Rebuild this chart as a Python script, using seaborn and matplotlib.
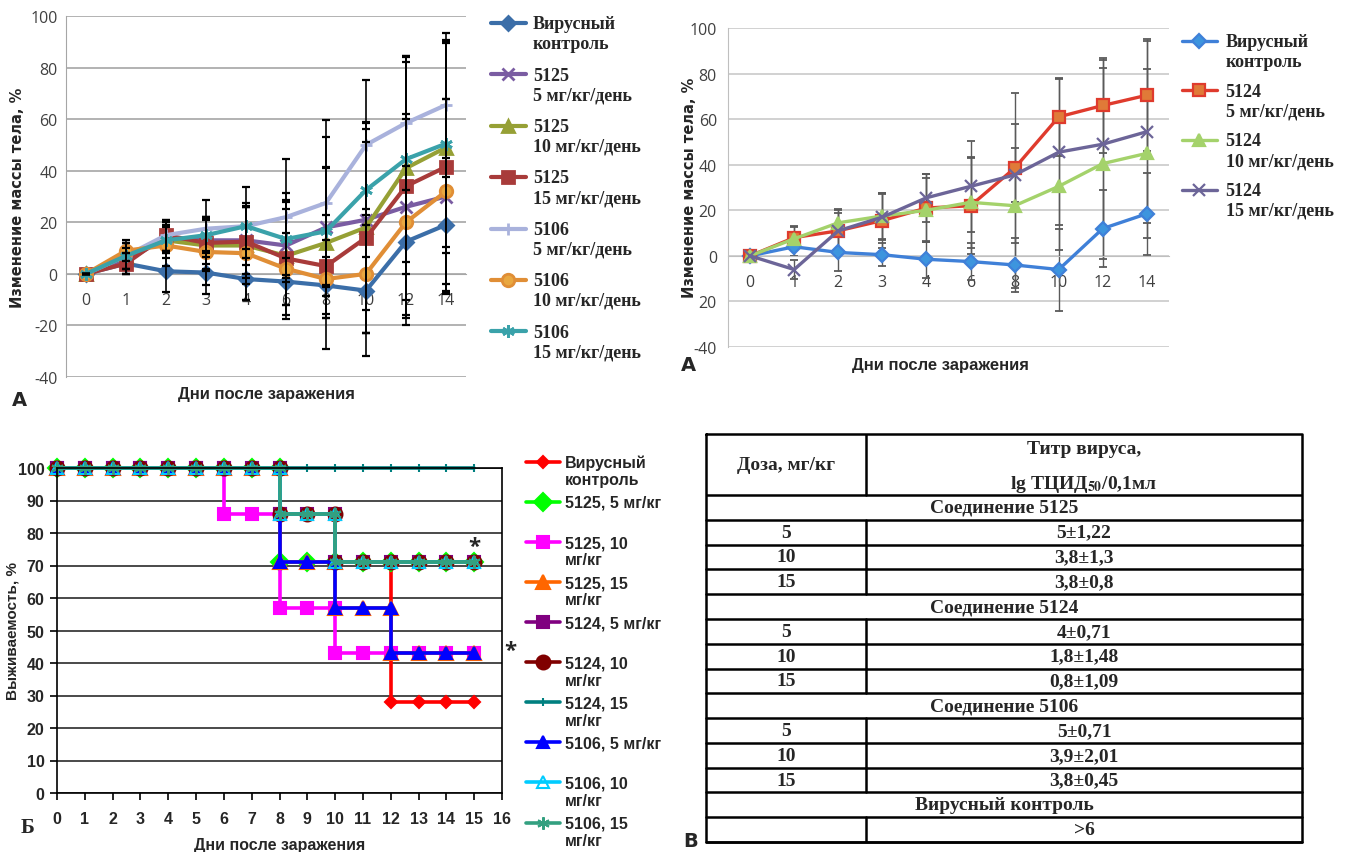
import numpy as np
import matplotlib
matplotlib.use('Agg')
import matplotlib.pyplot as plt
from matplotlib.legend_handler import HandlerLine2D
import seaborn as sns

# ---------------- data: panel A (left), 5125 / 5106, body weight change ----------------
days_a = ['0', '1', '2', '3', '4', '6', '8', '10', '12', '14']

ctrl_l = [0, 4, 1, 0.5, -2, -3, -4.5, -6.5, 12.5, 19]
ctrl_l_err = [0, 4, 8, 8.5, 8, 9, 11, 25.5, 29.5, 26]
c5125_5 = [0, 5, 14, 13, 13, 11, 18, 21, 26, 30]
c5125_5_err = [0, 5, 6, 9, 13, 14, 23, 35, 36, 38]
c5125_10 = [0, 7, 13, 11, 11, 7, 12, 18, 41, 49]
c5125_10_err = [0, 5, 5, 10, 15, 24.5, 41, 41, 41, 41]
c5125_15 = [0, 4, 15, 12, 12.5, 6, 3, 14, 34, 41.5]
c5125_15_err = [0, 4, 6, 10, 14, 22, 20, 37, 50, 48]
c5106_5 = [0, 7, 15, 17.5, 18.5, 22, 27.5, 50, 58.5, 65.5]
c5106_5_err = [0, 5, 6, 11, 15, 22.5, 32, 25, 26, 28]
c5106_10 = [0, 9, 11, 8.5, 8, 2, -2, 0, 20, 32]
c5106_10_err = [0, 4, 8, 13, 18, 14, 15, 23, 40, 36]
c5106_15 = [0, 7, 13, 15, 18.5, 13.5, 16.5, 32.5, 44.5, 50.5]
c5106_15_err = [0, 5, 7, 7, 9, 15, 25, 26, 40, 40]

# ---------------- data: panel A (right), 5124 ----------------
ctrl_r = [0, 4, 1.5, 0.5, -1.5, -2.5, -4, -6, 12, 18.5]
ctrl_r_err = [0, 4, 8, 5, 8, 8, 12, 18, 17, 18]
c5124_5 = [0, 8, 11, 15.5, 21, 22, 38.5, 61, 66, 70.5]
c5124_5_err = [0, 5, 9, 12, 15, 21, 33, 17, 21, 24.5]
c5124_10 = [0, 7.5, 14.5, 17.5, 20, 23.5, 22, 30.5, 40.5, 45]
c5124_10_err = [0, 5, 6, 10, 14, 20, 36, 28, 42, 37]
c5124_15 = [0, -6, 11, 17, 25.5, 30.5, 35.5, 45.5, 49, 54.5]
c5124_15_err = [0, 4, 8, 10, 10.5, 20, 12, 32, 37, 40]
yticks_r = [-40, -20, 0, 20, 40, 60, 80, 100]
ytick_labels_r = ['-40', '20', '0', '20', '40', '60', '80', '100']

# ---------------- data: panel Б, survival (drop days repeated, as in the original) ----------------
s_ctrl_d = [0, 1, 2, 3, 4, 5, 6, 7, 8, 8, 9, 10, 10, 11, 12, 12, 13, 14, 15]
s_ctrl = [100, 100, 100, 100, 100, 100, 100, 100, 100, 86, 86, 86, 71, 71, 71, 28, 28, 28, 28]
s5125_5_d = [0, 1, 2, 3, 4, 5, 6, 7, 8, 8, 9, 10, 11, 12, 13, 14, 15]
s5125_5 = [100, 100, 100, 100, 100, 100, 100, 100, 100, 71, 71, 71, 71, 71, 71, 71, 71]
s5125_10_d = [0, 1, 2, 3, 4, 5, 6, 6, 7, 8, 8, 9, 10, 10, 11, 12, 13, 14, 15]
s5125_10 = [100, 100, 100, 100, 100, 100, 100, 86, 86, 86, 57, 57, 57, 43, 43, 43, 43, 43, 43]
s5125_15_d = [0, 1, 2, 3, 4, 5, 6, 7, 8, 8, 9, 10, 10, 11, 12, 12, 13, 14, 15]
s5125_15 = [100, 100, 100, 100, 100, 100, 100, 100, 100, 71, 71, 71, 57, 57, 57, 43, 43, 43, 43]
s5124_5_d = [0, 1, 2, 3, 4, 5, 6, 7, 8, 8, 9, 10, 10, 11, 12, 13, 14, 15]
s5124_5 = [100, 100, 100, 100, 100, 100, 100, 100, 100, 86, 86, 86, 71, 71, 71, 71, 71, 71]
s5124_10_d = [0, 1, 2, 3, 4, 5, 6, 7, 8, 8, 9, 10, 10, 11, 12, 13, 14, 15]
s5124_10 = [100, 100, 100, 100, 100, 100, 100, 100, 100, 86, 86, 86, 71, 71, 71, 71, 71, 71]
s5124_15_d = [0, 1, 2, 3, 4, 5, 6, 7, 8, 9, 10, 11, 12, 13, 14, 15]
s5124_15 = [100] * 16
s5106_5_d = [0, 1, 2, 3, 4, 5, 6, 7, 8, 8, 9, 10, 10, 11, 12, 12, 13, 14, 15]
s5106_5 = [100, 100, 100, 100, 100, 100, 100, 100, 100, 71, 71, 71, 57, 57, 57, 43, 43, 43, 43]
s5106_10_d = [0, 1, 2, 3, 4, 5, 6, 7, 8, 8, 9, 10, 10, 11, 12, 13, 14, 15]
s5106_10 = [100, 100, 100, 100, 100, 100, 100, 100, 100, 86, 86, 86, 71, 71, 71, 71, 71, 71]
s5106_15_d = [0, 1, 2, 3, 4, 5, 6, 7, 8, 8, 9, 10, 10, 11, 12, 13, 14, 15]
s5106_15 = [100, 100, 100, 100, 100, 100, 100, 100, 100, 86, 86, 86, 71, 71, 71, 71, 71, 71]

# ---------------- data: panel В, table ----------------
tbl_rows = [
    ('Соединение 5125', None),
    ('5', '5±1,22'), ('10', '3,8±1,3'), ('15', '3,8±0,8'),
    ('Соединение 5124', None),
    ('5', '4±0,71'), ('10', '1,8±1,48'), ('15', '0,8±1,09'),
    ('Соединение 5106', None),
    ('5', '5±0,71'), ('10', '3,9±2,01'), ('15', '3,8±0,45'),
    ('Вирусный контроль', None),
    ('', '>6'),
]

sns.set_style('white')
plt.rcParams['font.family'] = ['Open Sans', 'DejaVu Sans']
plt.rcParams['mathtext.fontset'] = 'stix'
plt.rcParams['axes.unicode_minus'] = False

W, H = 1347, 853
fig = plt.figure(figsize=(W / 100, H / 100), dpi=100)


def rect(l, t, r, b):
    return [l / W, 1 - b / H, (r - l) / W, (b - t) / H]


class FirstLineHandler(HandlerLine2D):
    # put the legend handle next to the first line of a two-line label
    def __init__(self, shift=0.6, **kw):
        super().__init__(**kw)
        self.shift = shift

    def create_artists(self, legend, orig_handle, xdescent, ydescent, width, height, fontsize, trans):
        arts = super().create_artists(legend, orig_handle, xdescent, ydescent, width, height, fontsize, trans)
        for a in arts:
            a.set_ydata(np.asarray(a.get_ydata(), dtype=float) + self.shift * fontsize)
        return arts


serif_b = dict(family=['Liberation Serif', 'DejaVu Serif'], weight='bold')
narrow_b = dict(family=['Liberation Sans Narrow', 'Liberation Sans', 'DejaVu Sans'], weight='bold')
pos = np.arange(len(days_a))


def weight_axes(ax, grid_c, spine_c, label_c):
    ax.set_xlim(-0.5, len(days_a) - 0.5)
    ax.set_ylim(-40, 100)
    ax.set_yticks(range(-40, 101, 20))
    ax.set_xticks(pos)
    ax.set_xticklabels(days_a)
    ax.set_xticks(np.arange(0.5, len(days_a) - 0.5, 1), minor=True)
    ax.yaxis.grid(True, color=grid_c, lw=1.2)
    ax.set_axisbelow(True)
    for s in ['top', 'right']:
        ax.spines[s].set_visible(False)
    ax.spines['left'].set_color(spine_c)
    ax.spines['bottom'].set_color(spine_c)
    ax.spines['bottom'].set_position(('data', 0))
    ax.tick_params(axis='x', which='major', length=0, pad=13, labelsize=11.5, labelcolor=label_c)
    ax.tick_params(axis='x', which='minor', length=4, direction='out', color=spine_c)
    ax.tick_params(axis='y', length=0, pad=6, labelsize=11.5, labelcolor=label_c)
    ax.set_xlabel('')
    ax.set_ylabel('')


# ---------------- top-left chart ----------------
ax1 = fig.add_axes(rect(66, 17, 466, 378))
left_series = [
    (ctrl_l, ctrl_l_err, 'Вирусный\nконтроль', '#3b6ea8', '#3b6ea8', 'D', 7),
    (c5125_5, c5125_5_err, '5125\n5 мг/кг/день', '#7a5ca2', '#7a5ca2', 'x', 8),
    (c5125_10, c5125_10_err, '5125\n10 мг/кг/день', '#96a035', '#96a035', '^', 9),
    (c5125_15, c5125_15_err, '5125\n15 мг/кг/день', '#a83b3a', '#a83b3a', 's', 9),
    (c5106_5, c5106_5_err, '5106\n5 мг/кг/день', '#a9b2dc', '#a9b2dc', '+', 8),
    (c5106_10, c5106_10_err, '5106\n10 мг/кг/день', '#e08e36', '#e9a840', 'o', 9),
    (c5106_15, c5106_15_err, '5106\n15 мг/кг/день', '#3aa2aa', '#3aa2aa', (6, 2, 0), 9),
]
for vals, err, lab, c, fc, m, ms in left_series:
    sns.lineplot(x=pos, y=vals, ax=ax1, color=c, lw=3, marker=m, ms=ms, mfc=fc, mec=c,
                 mew=2, label=lab, clip_on=False, zorder=3)
for vals, err, lab, c, fc, m, ms in left_series:
    ax1.errorbar(pos, vals, yerr=err, fmt='none', ecolor='black', elinewidth=1.2,
                 capsize=3, capthick=1.6, zorder=4)
weight_axes(ax1, '#a6a6a6', '#a6a6a6', '#404040')
h1, l1 = ax1.get_legend_handles_labels()
ax1.get_legend().remove()
ax1.text(-0.12, 0.5, 'Изменение массы тела, %', transform=ax1.transAxes, rotation=90,
         ha='center', va='center', fontsize=10.5, fontweight='bold', family='DejaVu Sans')
fig.text(266 / W, 1 - 395 / H, 'Дни после заражения', ha='center', va='center',
         fontsize=12, **narrow_b)
fig.text(12 / W, 1 - 401 / H, 'A', ha='left', va='center', fontsize=14, fontweight='bold',
         family='DejaVu Sans')
fig.legend(h1, l1, loc='upper left', bbox_to_anchor=(475 / W, 1 - 0 / H), frameon=False,
           prop=dict(size=13, **serif_b), handlelength=1.9, handletextpad=0.4,
           labelspacing=0.82, numpoints=1,
           handler_map={h: FirstLineHandler() for h in h1})

# ---------------- top-right chart ----------------
ax2 = fig.add_axes(rect(728, 29, 1169, 348))
right_series = [
    (ctrl_r, ctrl_r_err, 'Вирусный\nконтроль', '#3f80d8', '#3d95de', 'D', 7),
    (c5124_5, c5124_5_err, '5124\n5 мг/кг/день', '#df3b2d', '#e07a38', 's', 9),
    (c5124_10, c5124_10_err, '5124\n10 мг/кг/день', '#a4d26b', '#a4d26b', '^', 9),
    (c5124_15, c5124_15_err, '5124\n15 мг/кг/день', '#6c6598', '#6c6598', 'x', 9),
]
for vals, err, lab, c, fc, m, ms in right_series:
    sns.lineplot(x=pos, y=vals, ax=ax2, color=c, lw=2.4, marker=m, ms=ms, mfc=fc, mec=c,
                 mew=1.6, label=lab, clip_on=False, zorder=3)
for vals, err, lab, c, fc, m, ms in right_series:
    ax2.errorbar(pos, vals, yerr=err, fmt='none', ecolor='#5a5a5a', elinewidth=1,
                 capsize=3, capthick=1.3, zorder=2.5)
weight_axes(ax2, '#c9c9c9', '#bfbfbf', '#404040')
ax2.set_yticks(yticks_r)
ax2.set_yticklabels(ytick_labels_r)
ax2.tick_params(axis='y', pad=8)
h2, l2 = ax2.get_legend_handles_labels()
ax2.get_legend().remove()
fig.text(689 / W, 1 - 188 / H, 'Изменение массы тела, %', rotation=90, ha='center', va='center',
         fontsize=10.5, fontweight='bold', family='DejaVu Sans')
fig.text(940 / W, 1 - 366 / H, 'Дни после заражения', ha='center', va='center',
         fontsize=12, **narrow_b)
fig.text(681 / W, 1 - 366 / H, 'A', ha='left', va='center', fontsize=14, fontweight='bold',
         family='DejaVu Sans')
fig.legend(h2, l2, loc='upper left', bbox_to_anchor=(1166 / W, 1 - 18 / H), frameon=False,
           prop=dict(size=13, **serif_b), handlelength=1.9, handletextpad=0.5,
           labelspacing=0.72, numpoints=1,
           handler_map={h: FirstLineHandler() for h in h2})

# ---------------- bottom-left survival chart ----------------
ax3 = fig.add_axes(rect(57, 469, 502, 794))
surv_series = [
    (s_ctrl_d, s_ctrl, 'Вирусный\nконтроль', '#ff0000', '#ff0000', 'D', 6),
    (s5125_5_d, s5125_5, '5125, 5 мг/кг\n ', '#00ff00', '#00ff00', 'D', 9),
    (s5125_10_d, s5125_10, '5125, 10\nмг/кг', '#ff00ff', '#ff00ff', 's', 9),
    (s5125_15_d, s5125_15, '5125, 15\nмг/кг', '#ff6600', '#ff6600', '^', 10),
    (s5124_5_d, s5124_5, '5124, 5 мг/кг\n ', '#800080', '#800080', 's', 9),
    (s5124_10_d, s5124_10, '5124, 10\nмг/кг', '#800000', '#800000', 'o', 10),
    (s5124_15_d, s5124_15, '5124, 15\nмг/кг', '#008080', '#008080', '|', 6),
    (s5106_5_d, s5106_5, '5106, 5 мг/кг\n ', '#0000ff', '#0000ff', '^', 9),
    (s5106_10_d, s5106_10, '5106, 10\nмг/кг', '#00ccff', 'none', '^', 9),
    (s5106_15_d, s5106_15, '5106, 15\nмг/кг', '#33a080', '#33a080', (6, 2, 0), 9),
]
for d, vals, lab, c, fc, m, ms in surv_series:
    sns.lineplot(x=d, y=vals, ax=ax3, estimator=None, sort=False, color=c, lw=2.6,
                 marker=m, ms=ms, mfc=fc, mec=c, mew=1.5, label=lab, clip_on=False)
ax3.set_xlim(0, 16)
ax3.set_ylim(0, 100)
ax3.set_xticks(range(0, 17))
ax3.set_yticks(range(0, 101, 10))
ax3.yaxis.grid(True, color='#3a3a3a', lw=1.3)
ax3.set_axisbelow(True)
for s in ['left', 'right', 'bottom', 'top']:
    ax3.spines[s].set_color('black')
    ax3.spines[s].set_linewidth(1.2)
ax3.tick_params(axis='both', length=5, width=1.2, color='black', direction='out',
                bottom=True, left=True)
ax3.tick_params(axis='x', pad=8)
ax3.tick_params(axis='y', pad=4)
for t in ax3.get_xticklabels() + ax3.get_yticklabels():
    t.set_fontweight('bold')
    t.set_fontsize(11.5)
    t.set_family(['Liberation Sans', 'DejaVu Sans'])
ax3.set_xlabel('Дни после заражения', fontsize=11.5, fontweight='bold',
               family=['Liberation Sans', 'DejaVu Sans'])
ax3.set_ylabel('Выживаемость, %', fontsize=11, fontweight='bold',
               family=['Liberation Sans', 'DejaVu Sans'])
ax3.xaxis.set_label_coords(0.5, -0.135)
ax3.yaxis.set_label_coords(-0.085, 0.5)
ax3.text(15, 76, '*', ha='center', va='center', fontsize=16, fontweight='bold')
ax3.text(16.3, 44, '*', ha='center', va='center', fontsize=16, fontweight='bold', clip_on=False)
h3, l3 = ax3.get_legend_handles_labels()
ax3.get_legend().remove()
fig.text(21 / W, 1 - 828 / H, 'Б', ha='left', va='center', fontsize=15, **serif_b)
fig.legend(h3, l3, loc='upper left', bbox_to_anchor=(512 / W, 1 - 441 / H), frameon=False,
           prop=dict(size=11.5, weight='bold', family=['Liberation Sans', 'DejaVu Sans']),
           handlelength=2.1, handletextpad=0.3, labelspacing=0.48, numpoints=1,
           handler_map={h: FirstLineHandler() for h in h3})

# ---------------- table В ----------------
ax4 = fig.add_axes(rect(706, 435, 1302, 843))
tw, th = 596, 408
head_h = 61
row_h = (th - head_h) / len(tbl_rows)
col_x = 160
ax4.set_xlim(0, tw)
ax4.set_ylim(th, 0)
ax4.axis('off')
lw_t = 1.8
ax4.plot([0, tw, tw, 0, 0], [0, 0, th, th, 0], color='black', lw=lw_t, clip_on=False)
ax4.plot([col_x, col_x], [0, head_h], color='black', lw=lw_t)
ax4.plot([0, tw], [head_h, head_h], color='black', lw=lw_t)
txt_kw = dict(ha='center', va='center', fontsize=14, **serif_b)
ax4.text(col_x / 2, head_h / 2, 'Доза, мг/кг', **txt_kw)
ax4.text((col_x + tw) / 2, 15, 'Титр вируса,', **txt_kw)
ax4.text((col_x + tw) / 2, 50, 'lg ТЦИД$_{\\mathbf{50}}$/0,1мл', **txt_kw)
for i, (a, b) in enumerate(tbl_rows):
    y0 = head_h + i * row_h
    yc = y0 + row_h / 2
    ax4.plot([0, tw], [y0 + row_h, y0 + row_h], color='black', lw=lw_t, clip_on=False)
    if b is None:
        ax4.text(tw / 2, yc, a, **txt_kw)
    else:
        ax4.plot([col_x, col_x], [y0, y0 + row_h], color='black', lw=lw_t)
        ax4.text(col_x / 2, yc, a, **txt_kw)
        ax4.text((col_x + tw) / 2, yc, b, **txt_kw)
fig.text(683 / W, 1 - 842 / H, 'В', ha='left', va='center', fontsize=14, fontweight='bold',
         family='DejaVu Sans')

fig.savefig('out.png', dpi=100)
